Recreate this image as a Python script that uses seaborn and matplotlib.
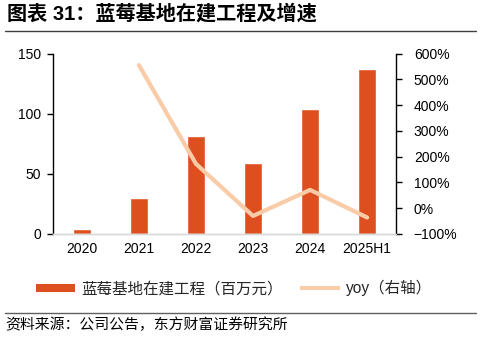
import numpy as np
import pandas as pd
import matplotlib
matplotlib.use("Agg")
import matplotlib.pyplot as plt
from matplotlib.lines import Line2D
from matplotlib.ticker import FuncFormatter, MultipleLocator
import seaborn as sns

# Blueberry base construction-in-progress (million yuan) and YoY growth
years = ["2020", "2021", "2022", "2023", "2024", "2025H1"]
cip_values = [4, 30, 81.5, 59, 103.5, 137]
yoy_pct = [np.nan, 555, 172, -30, 71, -36]

bar_color = "#DD4F1F"
line_color = "#F9CBA7"

sns.set_theme(style="white")
plt.rcParams["font.family"] = ["Liberation Sans", "Noto Sans CJK SC", "DejaVu Sans"]
plt.rcParams["axes.unicode_minus"] = True

df = pd.DataFrame({"year": years, "cip": cip_values, "yoy": yoy_pct})

fig = plt.figure(figsize=(4.81, 3.38), dpi=100)
ax = fig.add_axes([0.1108, 0.3077, 0.7119, 0.534])

sns.barplot(data=df, x="year", y="cip", order=years, color=bar_color,
            width=0.32, saturation=1, ax=ax)

ax2 = ax.twinx()
sns.pointplot(data=df, x="year", y="yoy", order=years, color=line_color,
              markers="", linestyles="-", linewidth=3, errorbar=None, ax=ax2)

# left axis
ax.set_ylim(0, 150)
ax.yaxis.set_major_locator(MultipleLocator(50))
ax.set_xlim(-0.5, 5.5)
ax.set_xlabel("")
ax.set_ylabel("")
ax2.set_ylabel("")
ax2.set_xlabel("")

# right axis
ax2.set_ylim(-100, 600)
ax2.yaxis.set_major_locator(MultipleLocator(100))
ax2.yaxis.set_major_formatter(FuncFormatter(lambda v, p: f"{v:.0f}%".replace("-", "\u2212")))

for a in (ax, ax2):
    a.spines["top"].set_visible(False)
    a.spines["bottom"].set_color("#D9D9D9")
    a.spines["bottom"].set_linewidth(1.0)
    a.grid(False)

ax.spines["right"].set_visible(False)
ax.spines["left"].set_color("black")
ax.spines["left"].set_linewidth(1.0)
ax2.spines["left"].set_visible(False)
ax2.spines["right"].set_color("black")
ax2.spines["right"].set_linewidth(1.0)

ax.tick_params(axis="y", which="major", direction="out", length=4, width=1,
               color="black", labelsize=10, pad=5, left=True)
ax.tick_params(axis="x", length=0, labelsize=10, pad=6)
ax2.tick_params(axis="y", which="major", direction="out", length=4, width=1,
                color="black", labelsize=10, pad=9, right=True)
ax.set_xticks(range(len(years)))
ax.set_xticklabels(years)
for lbl in ax.get_xticklabels() + ax.get_yticklabels() + ax2.get_yticklabels():
    lbl.set_color("black")

# title and rules
fig.text(7 / 481, 1 - 14 / 338, "图表 31：蓝莓基地在建工程及增速", fontsize=14.5,
         fontweight="bold", ha="left", va="center", color="black")
fig.add_artist(Line2D([5 / 481, 476 / 481], [1 - 30.7 / 338] * 2,
                      color="#404040", lw=1.0, transform=fig.transFigure))
fig.add_artist(Line2D([5 / 481, 476 / 481], [1 - 313.3 / 338] * 2,
                      color="#606060", lw=1.0, transform=fig.transFigure))
fig.text(5 / 481, 1 - 325 / 338, "资料来源：公司公告，东方财富证券研究所", fontsize=10.7,
         ha="left", va="center", color="black")

# legend
handles = [Line2D([], [], color=bar_color, lw=5.8, solid_capstyle="butt"),
           Line2D([], [], color=line_color, lw=2.8, solid_capstyle="butt")]
labels = ["蓝莓基地在建工程（百万元）", "yoy（右轴）"]
fig.legend(handles, labels, loc="center", bbox_to_anchor=(234 / 481, 1 - 288 / 338),
           ncol=2, frameon=False, fontsize=11.2, handlelength=2.55, handletextpad=0.4,
           columnspacing=1.1)

fig.savefig("out.png", dpi=100)
